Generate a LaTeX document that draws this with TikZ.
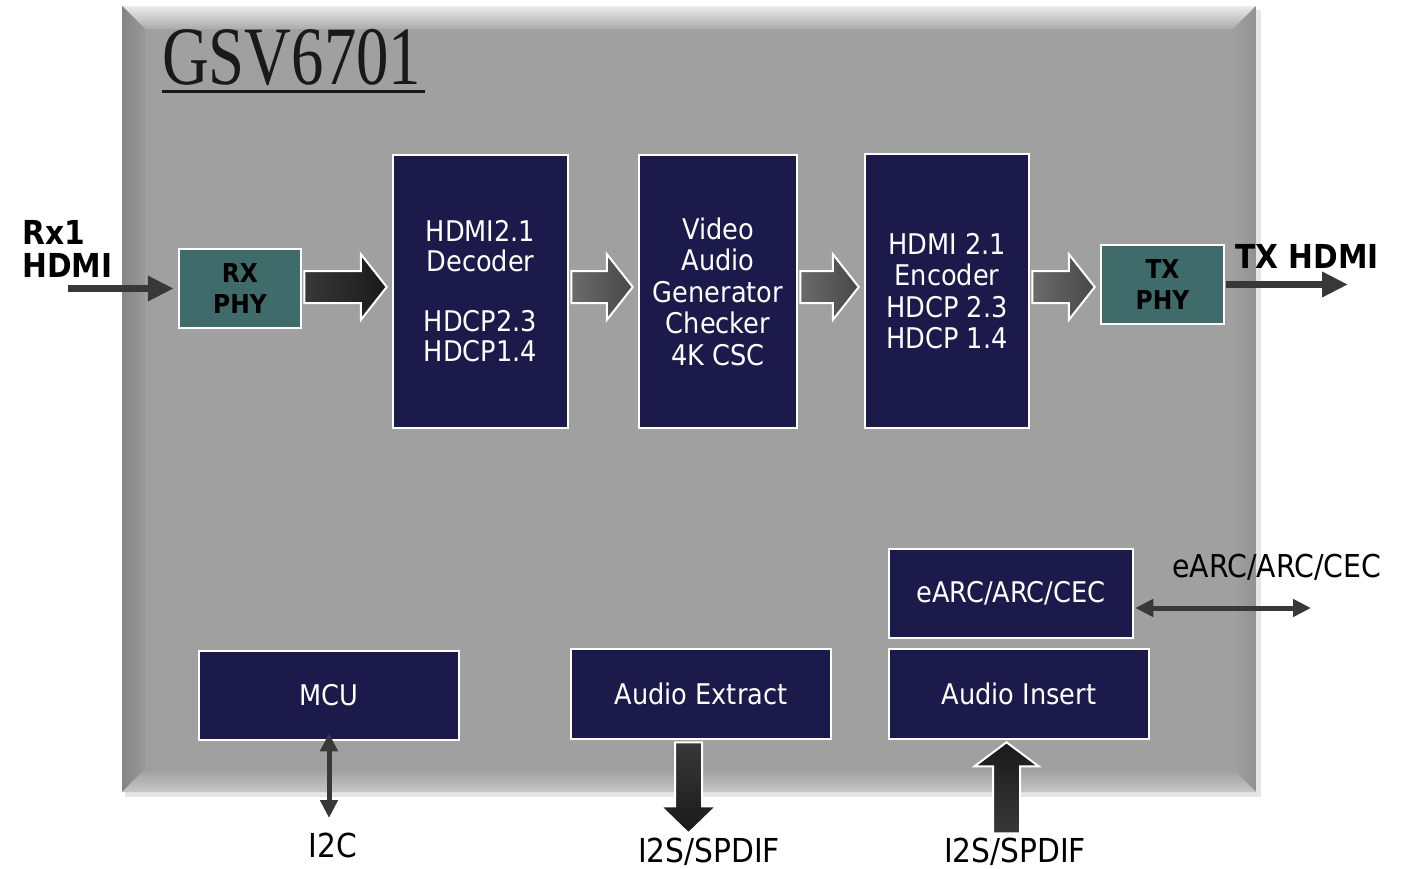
\documentclass[tikz,border=0pt]{standalone}
\usepackage{fontspec}
\setmainfont[FakeStretch=0.9]{DejaVu Sans}
\newfontfamily\titlefont[FakeStretch=0.78]{Liberation Serif}
\usetikzlibrary{arrows.meta,calc}

\definecolor{chipgray}{HTML}{A0A0A0}
\definecolor{navy}{HTML}{1B1A4B}
\definecolor{phyteal}{HTML}{3F6B6B}
\definecolor{wire}{HTML}{383838}

% fat block arrow pointing right, between two boxes
\newcommand{\fatright}[4]{%
  \path[fat,left color=#3,right color=#4]
    let \p1=(#1.east |- bus), \p2=(#2.west |- bus) in
    (\x1+2pt,\y1+16pt) -- (\x2-31pt,\y1+16pt) -- (\x2-31pt,\y1+33pt) --
    (\x2-5pt,\y1) -- (\x2-31pt,\y1-33pt) -- (\x2-31pt,\y1-16pt) --
    (\x1+2pt,\y1-16pt) -- cycle;}

\begin{document}
\begin{tikzpicture}[
    x=1pt,y=-1pt,
    line join=miter,
    box/.style={rectangle,draw=white,line width=2.5pt,fill=navy,text=white,
        align=center,inner sep=0pt,font=\fontsize{28.5}{31.5}\selectfont},
    phy/.style={rectangle,draw=white,line width=2.5pt,fill=phyteal,text=black,
        align=center,inner sep=0pt,minimum width=122pt,minimum height=79pt,
        font=\fontsize{26}{31.5}\selectfont\bfseries},
    pinlabel/.style={inner sep=0pt,text=black,font=\fontsize{33}{33}\selectfont},
    boldlabel/.style={inner sep=0pt,text=black,align=left,
        font=\fontsize{33}{33}\selectfont\bfseries},
    fat/.style={draw=white,line width=2pt},
    wire/.style={draw=wire,line width=7pt,-{Triangle[length=26pt,width=24pt]}},
    twoway/.style={draw=wire,line width=5pt,
        {Triangle[length=18pt,width=17pt]}-{Triangle[length=18pt,width=17pt]}}
  ]

    \useasboundingbox (0,0) rectangle (1405,869);

    % chip body with bevel
    \fill[black!10] (125,10) rectangle (1261,797);
    \fill[chipgray] (122,6) rectangle (1256,792);
    \shade[top color=black!8,bottom color=black!33]
        (122,6) -- (1256,6) -- (1233,29) -- (145,29) -- cycle;
    \shade[left color=black!48,right color=black!40]
        (122,6) -- (145,29) -- (145,769) -- (122,792) -- cycle;
    \shade[left color=black!37,right color=black!43]
        (1256,6) -- (1233,29) -- (1233,769) -- (1256,792) -- cycle;
    \shade[top color=black!38,bottom color=black!22]
        (122,792) -- (145,769) -- (1233,769) -- (1256,792) -- cycle;
    \fill[chipgray] (145,29) rectangle (1233,769);

    \node[anchor=base west,inner sep=0pt,text=black!90,
        font=\fontsize{83}{83}\titlefont] (title) at (162,85) {GSV6701};
    \draw[black!90,line width=3pt] ([yshift=-7pt]title.base west) -- ++(263,0);

    % blocks
    \node[phy] (rx) at (240,288.5) {RX\\PHY};
    \node[box,minimum width=175pt,minimum height=273pt,
        font=\fontsize{28.5}{30}\selectfont] (dec) at (480.5,291.5)
        {HDMI2.1\\Decoder\\~\\HDCP2.3\\HDCP1.4};
    \node[box,minimum width=158pt,minimum height=273pt] (vid) at (718,291.5)
        {Video\\Audio\\Generator\\Checker\\4K CSC};
    \node[box,minimum width=164pt,minimum height=274pt] (enc) at (947,291)
        {HDMI 2.1\\Encoder\\HDCP 2.3\\HDCP 1.4};
    \node[phy,minimum width=123pt] (tx) at (1162.5,284.5) {TX\\PHY};

    \node[box,minimum width=244pt,minimum height=89pt] (earc) at (1011,593.5) {eARC/ARC/CEC};
    \node[box,minimum width=260pt,minimum height=89pt] (mcu) at (329,695.5) {MCU};
    \node[box,minimum width=260pt,minimum height=90pt] (ext) at (701,694) {Audio Extract};
    \node[box,minimum width=260pt,minimum height=90pt] (ins) at (1019,694) {Audio Insert};

    % outside labels
    \node[boldlabel,anchor=west] (rxlbl) at (22,248.5) {Rx1\\HDMI};
    \node[boldlabel,anchor=west] (txlbl) at (1235,256) {TX HDMI};
    \node[pinlabel,anchor=west,font=\fontsize{31.5}{33}\selectfont] (earclbl) at (1172,567) {eARC/ARC/CEC};
    \node[pinlabel] (i2c) at (333,845) {I2C};
    \node[pinlabel] (i2sout) at (709,852) {I2S/SPDIF};
    \node[pinlabel] (i2sin) at (1015,852) {I2S/SPDIF};

    % data path
    \coordinate (bus) at (0,287);
    \fatright{rx}{dec}{black!78}{black!90}
    \fatright{dec}{vid}{black!58}{black!72}
    \fatright{vid}{enc}{black!58}{black!72}
    \fatright{enc}{tx}{black!58}{black!72}

    \coordinate (rxin) at (68,288.5);
    \coordinate (txout) at (1348,284.5);
    \draw[wire,shorten >=4pt] (rxin) -- (rx.west);
    \draw[wire,shorten <=1pt] (tx.east) -- (txout);

    % side channels
    \coordinate (earcend) at (1311,608);
    \draw[twoway,shorten <=1pt] (earc.east |- earcend) -- (earcend);
    \coordinate (i2cend) at (329,818);
    \draw[twoway] ([yshift=8pt]mcu.south) -- (i2cend);

    \path[fat,top color=black!78,bottom color=black!90]
      let \p1=($(ext.south)+(-12.5,0)$) in
      (\x1-13.5pt,\y1-2pt) -- (\x1+13.5pt,\y1-2pt) -- (\x1+13.5pt,\y1-66pt) --
      (\x1+28pt,\y1-66pt) -- (\x1,\y1-93pt) -- (\x1-28pt,\y1-66pt) --
      (\x1-13.5pt,\y1-66pt) -- cycle;
    \path[fat,top color=black!90,bottom color=black!78]
      let \p1=($(ins.south)+(-12.5,0)$) in
      (\x1,\y1-2pt) -- (\x1+32pt,\y1-26pt) -- (\x1+13.5pt,\y1-26pt) --
      (\x1+13.5pt,\y1-93pt) -- (\x1-13.5pt,\y1-93pt) -- (\x1-13.5pt,\y1-26pt) --
      (\x1-32pt,\y1-26pt) -- cycle;

\end{tikzpicture}
\end{document}
